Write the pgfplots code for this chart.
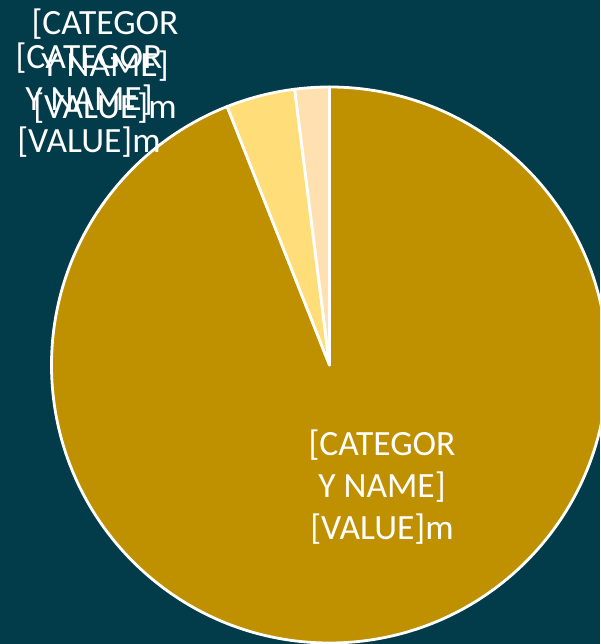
\documentclass[border=0pt]{standalone}
\usepackage{pgfplots}
\pgfplotsset{compat=1.18}
\usepackage{fontspec}
\setmainfont{Carlito}

\definecolor{bgteal}{HTML}{023B4A}
\definecolor{goldslice}{HTML}{BF9000}
\definecolor{yellowslice}{HTML}{FFDD78}
\definecolor{peachslice}{HTML}{FFE0B0}

% pie centre and radius in pixel units of the reference (y upwards)
\newcommand{\cx}{329.5}
\newcommand{\cy}{279}
\newcommand{\rad}{278}

\begin{document}
\begin{tikzpicture}
\begin{axis}[
	name=ax,
	scale only axis,
	width=600pt,
	height=644pt,
	xmin=0, xmax=600,
	ymin=0, ymax=644,
	hide axis,
	clip=true,
]
\fill[bgteal] (axis cs:0,0) rectangle (axis cs:600,644);

% shares: 94 / 4 / 2 (percent), clockwise from 12 o'clock
\filldraw[fill=goldslice, draw=white, line width=2.8pt, line join=round]
	(axis cs:\cx,\cy) -- (axis cs:\cx,{\cy+\rad})
	arc[start angle=90, end angle={90-3.6*94}, radius=\rad pt] -- cycle;
\filldraw[fill=yellowslice, draw=white, line width=2.8pt, line join=round]
	(axis cs:\cx,\cy) -- (axis cs:{\cx+\rad*cos(90-3.6*94)},{\cy+\rad*sin(90-3.6*94)})
	arc[start angle={90-3.6*94}, end angle={90-3.6*98}, radius=\rad pt] -- cycle;
\filldraw[fill=peachslice, draw=white, line width=2.8pt, line join=round]
	(axis cs:\cx,\cy) -- (axis cs:{\cx+\rad*cos(90-3.6*98)},{\cy+\rad*sin(90-3.6*98)})
	arc[start angle={90-3.6*98}, end angle={90-3.6*100}, radius=\rad pt] -- cycle;

\tikzset{lbl/.style={text=white, align=center, inner sep=0pt,
	font={\fontsize{35.5}{42}\selectfont}}}
\node[lbl] at (axis cs:382,157) {{[CATEGOR}\\{Y NAME]}\\{[VALUE]m}};
\node[lbl] at (axis cs:105,578) {{[CATEGOR}\\{Y NAME]}\\{[VALUE]m}};
\node[lbl] at (axis cs:89,544) {{[CATEGOR}\\{Y NAME]}\\{[VALUE]m}};
\end{axis}
\pgfresetboundingbox
\path[use as bounding box] (ax.south west) rectangle (ax.north east);
\end{tikzpicture}
\end{document}
